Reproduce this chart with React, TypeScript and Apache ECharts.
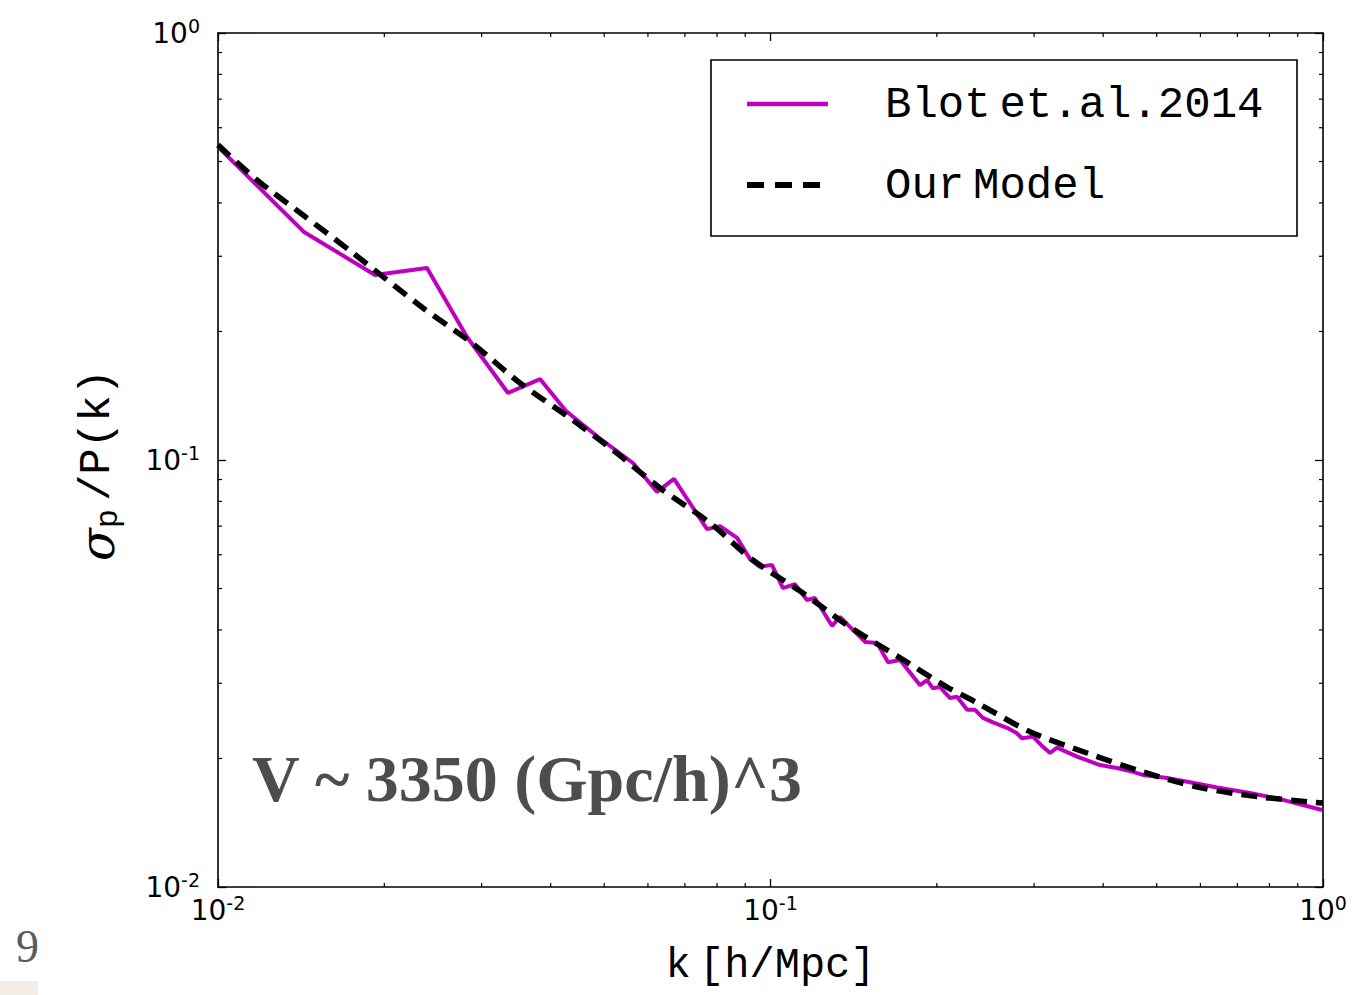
import React, { useEffect, useRef } from "react";
import * as echarts from "echarts";

// Blot et al. 2014 measurement (k in h/Mpc, sigma_P/P)
const kBlot = [0.0100, 0.01431, 0.01924, 0.02389, 0.02823, 0.03349, 0.03827, 0.04265, 0.04873, 0.05637,
  0.06232, 0.06688, 0.07676, 0.08103, 0.08700, 0.09182, 0.09572, 0.1006, 0.1053, 0.1107,
  0.1164, 0.1203, 0.1292, 0.1336, 0.1410, 0.1483, 0.1559, 0.1632, 0.1716, 0.1865,
  0.1920, 0.1968, 0.2026, 0.2113, 0.2176, 0.2269, 0.2345, 0.2424, 0.2527, 0.2679,
  0.2794, 0.2852, 0.2986, 0.3113, 0.3206, 0.3301, 0.3587, 0.3948, 0.4237, 0.4530,
  0.4722, 0.5220, 0.5745, 0.6428, 0.7378, 0.8465, 0.996];
const sBlot = [0.541, 0.342, 0.2712, 0.2816, 0.1941, 0.1435, 0.1547, 0.1302, 0.1132, 0.0984,
  0.0842, 0.0903, 0.0689, 0.0700, 0.0657, 0.0586, 0.0562, 0.0568, 0.0501, 0.0512,
  0.0470, 0.0475, 0.0409, 0.0429, 0.0400, 0.0375, 0.0373, 0.0336, 0.0340, 0.0297,
  0.0305, 0.0292, 0.0294, 0.0277, 0.0279, 0.0260, 0.0260, 0.0249, 0.0243, 0.0236,
  0.0229, 0.0223, 0.0225, 0.0213, 0.0206, 0.0212, 0.0202, 0.0193, 0.0190, 0.0186,
  0.0183, 0.0180, 0.0176, 0.0171, 0.0166, 0.0160, 0.01515];

// Our model
const kModel = [0.0100, 0.01177, 0.01425, 0.01755, 0.02350, 0.02882, 0.03520, 0.04283, 0.05187, 0.0631,
  0.0777, 0.0929, 0.1145, 0.1393, 0.1716, 0.2087, 0.2365, 0.2949, 0.3740, 0.4722,
  0.5990, 0.7691, 1.0];
const sModel = [0.547, 0.4525, 0.3748, 0.3053, 0.2270, 0.1879, 0.1515, 0.1268, 0.1055, 0.0860,
  0.0712, 0.0583, 0.0488, 0.0406, 0.0344, 0.0294, 0.0270, 0.0231, 0.0206, 0.0186,
  0.0171, 0.01625, 0.01573];

const AX_MIN = 0.01;
const AX_MAX = 1;
const minorTicks = [0.02, 0.03, 0.04, 0.05, 0.06, 0.07, 0.08, 0.09, 0.2, 0.3, 0.4, 0.5, 0.6, 0.7, 0.8, 0.9];

const legendNames = ["Blot\u2009et.al.2014", "Our\u2009Model"];
const annotation = "V ~ 3350 (Gpc/h)^3";

const tickFmt = (v: number) => {
  const e = Math.round(Math.log10(v));
  return "{b|10}{s|" + e + "}";
};

const labelRich = {
  b: { fontFamily: "DejaVu Sans", fontSize: 28, color: "#000", lineHeight: 34 },
  s: { fontFamily: "DejaVu Sans", fontSize: 19, color: "#000", verticalAlign: "top", lineHeight: 19 },
};

export default function App() {
  const ref = useRef<HTMLDivElement>(null);
  useEffect(() => {
    if (!ref.current) return;
    const chart = echarts.init(ref.current, null, { renderer: "svg" });
    const axisCommon = {
      type: "log",
      logBase: 10,
      min: AX_MIN,
      max: AX_MAX,
      splitLine: { show: false },
      axisLine: { show: true, lineStyle: { color: "#000", width: 1.6 } },
      axisTick: { show: true, inside: true, length: 8, lineStyle: { color: "#000", width: 1.3 } },
    };
    const minorRender = (horizontal: boolean) => (params: any, api: any) => {
      const v = api.value(horizontal ? 0 : 1);
      const L = 4;
      const st = { stroke: "#000", lineWidth: 1.2 };
      if (horizontal) {
        const b = api.coord([v, AX_MIN]);
        const t = api.coord([v, AX_MAX]);
        return {
          type: "group",
          children: [
            { type: "line", shape: { x1: b[0], y1: b[1], x2: b[0], y2: b[1] - L }, style: st },
            { type: "line", shape: { x1: t[0], y1: t[1], x2: t[0], y2: t[1] + L }, style: st },
          ],
        };
      }
      const l = api.coord([AX_MIN, v]);
      const r = api.coord([AX_MAX, v]);
      return {
        type: "group",
        children: [
          { type: "line", shape: { x1: l[0], y1: l[1], x2: l[0] + L, y2: l[1] }, style: st },
          { type: "line", shape: { x1: r[0], y1: r[1], x2: r[0] - L, y2: r[1] }, style: st },
        ],
      };
    };
    const option: any = {
      animation: false,
      backgroundColor: "#fff",
      grid: { left: 218, right: 39, top: 33, bottom: 108, containLabel: false, outerBoundsMode: "none" },
      xAxis: [
        {
          ...axisCommon,
          position: "bottom",
          axisLabel: { show: true, margin: 6, fontSize: 28, fontFamily: "DejaVu Sans", color: "#000", formatter: tickFmt, rich: labelRich },
          name: "k\u2009[h/Mpc]",
          nameLocation: "middle",
          nameGap: 58,
          nameTextStyle: { fontFamily: "Liberation Mono", fontSize: 42, color: "#000" },
        },
        { ...axisCommon, position: "top", axisLabel: { show: false } },
      ],
      yAxis: [
        {
          ...axisCommon,
          position: "left",
          axisLabel: { show: true, margin: 18, fontSize: 28, fontFamily: "DejaVu Sans", color: "#000", formatter: tickFmt, rich: labelRich },
        },
        { ...axisCommon, position: "right", axisLabel: { show: false } },
      ],
      graphic: [
        {
          type: "text",
          x: 97,
          y: 465,
          rotation: Math.PI / 2,
          style: {
            text: "{a|σ}{b|p}{c|/P(k)}",
            align: "center",
            verticalAlign: "middle",
            rich: {
              a: { fontFamily: "DejaVu Serif", fontStyle: "italic", fontSize: 48, color: "#000", lineHeight: 54 },
              b: { fontFamily: "Liberation Mono", fontSize: 32, color: "#000", verticalAlign: "bottom", lineHeight: 44, padding: [0, 8, 0, 0] },
              c: { fontFamily: "Liberation Mono", fontSize: 44, color: "#000", lineHeight: 54 },
            },
          },
        },
        {
          type: "text",
          x: 252,
          y: 778,
          style: {
            text: annotation,
            fontFamily: "Liberation Serif",
            fontWeight: "bold",
            fontSize: 66,
            fill: "#4d4d4d",
            verticalAlign: "middle",
          },
        },
        {
          type: "text",
          x: 16,
          y: 946,
          style: { text: "9", fontFamily: "Liberation Serif", fontSize: 46, fill: "#5a5a5a", verticalAlign: "middle" },
        },
        { type: "rect", shape: { x: 0, y: 981, width: 38, height: 14 }, style: { fill: "#f2eee6" } },
        {
          type: "group",
          z: 100,
          children: [
            { type: "rect", shape: { x: 711, y: 60, width: 586, height: 176 }, style: { fill: "#fff", stroke: "#000", lineWidth: 1.6 } },
            { type: "line", shape: { x1: 747, y1: 104, x2: 828, y2: 104 }, style: { stroke: "#bf00bf", lineWidth: 4.5 } },
            { type: "line", shape: { x1: 747, y1: 185, x2: 828, y2: 185 }, style: { stroke: "#000", lineWidth: 6, lineDash: [17, 11] } },
            { type: "text", x: 885, y: 105, style: { text: legendNames[0], fontFamily: "Liberation Mono", fontSize: 44, fill: "#000", verticalAlign: "middle" } },
            { type: "text", x: 885, y: 186, style: { text: legendNames[1], fontFamily: "Liberation Mono", fontSize: 44, fill: "#000", verticalAlign: "middle" } },
          ],
        },
      ],
      series: [
        {
          name: legendNames[0],
          type: "line",
          data: kBlot.map((k, i) => [k, sBlot[i]]),
          showSymbol: false,
          symbol: "none",
          lineStyle: { color: "#bf00bf", width: 4 },
          z: 3,
        },
        {
          name: legendNames[1],
          type: "line",
          data: kModel.map((k, i) => [k, sModel[i]]),
          showSymbol: false,
          symbol: "none",
          smooth: 0.3,
          lineStyle: { color: "#000", width: 5.5, type: [16, 9] },
          z: 4,
        },
        {
          type: "custom",
          silent: true,
          clip: false,
          data: minorTicks.map((v) => [v, AX_MIN]),
          encode: { x: 0, y: 1 },
          renderItem: minorRender(true),
          z: 5,
        },
        {
          type: "custom",
          silent: true,
          clip: false,
          data: minorTicks.map((v) => [AX_MIN, v]),
          encode: { x: 0, y: 1 },
          renderItem: minorRender(false),
          z: 5,
        },
      ],
    };
    chart.setOption(option);
    return () => chart.dispose();
  }, []);
  return (
    <div
      ref={ref}
      style={{ position: "fixed", left: 0, top: 0, width: 1362, height: 995, background: "#fff" }}
    />
  );
}
